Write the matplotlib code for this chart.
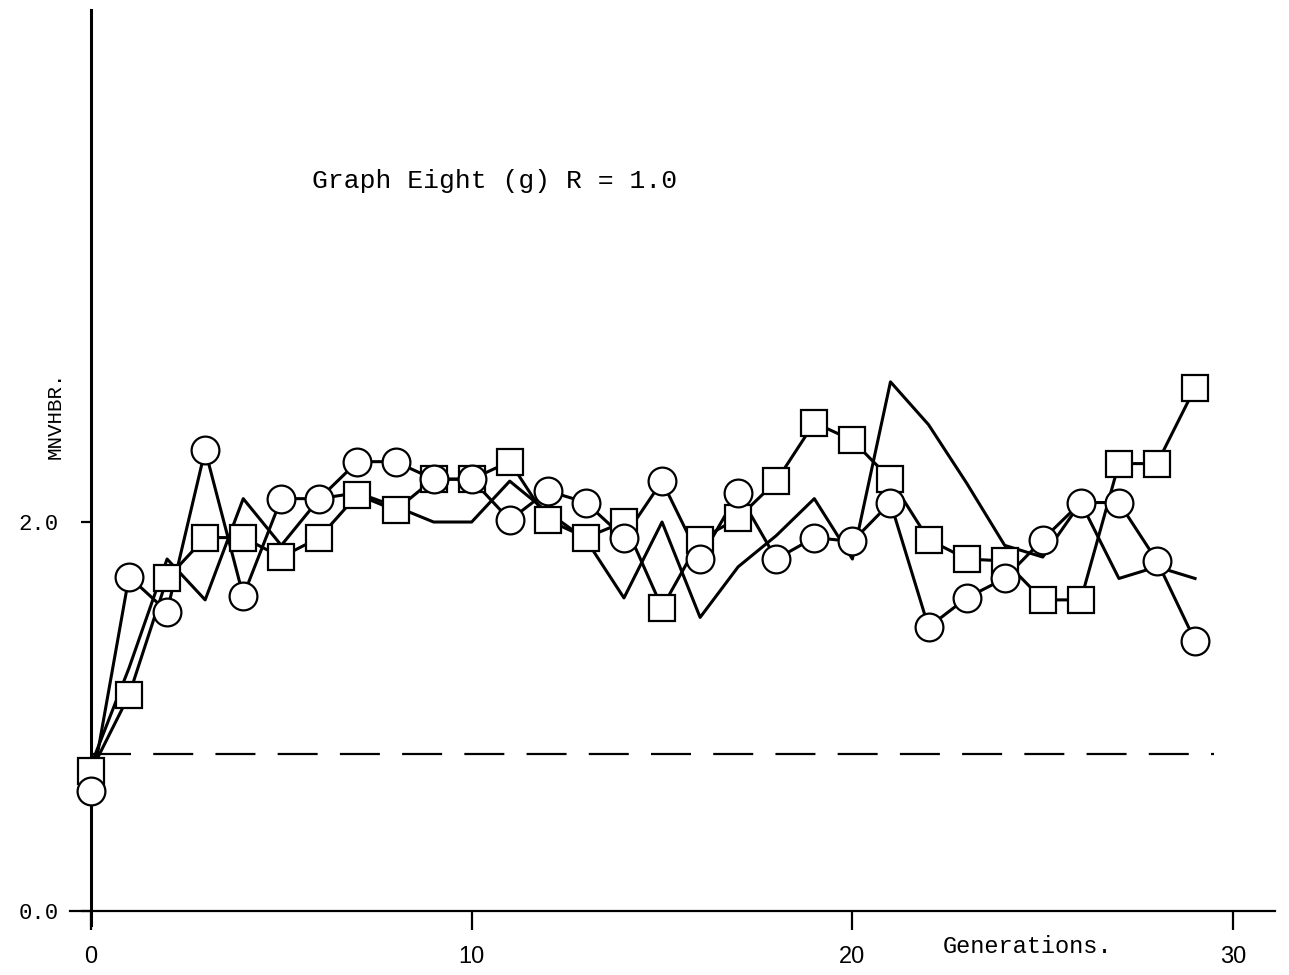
import matplotlib
matplotlib.use("Agg")
import matplotlib.pyplot as plt

# values
generations = list(range(30))
circles = [0.62, 1.72, 1.54, 2.37, 1.62, 2.12, 2.12, 2.31, 2.31, 2.22,
           2.22, 2.01, 2.16, 2.10, 1.92, 2.21, 1.81, 2.15, 1.81, 1.92,
           1.90, 2.10, 1.46, 1.61, 1.71, 1.91, 2.10, 2.10, 1.80, 1.39]
squares = [0.72, 1.11, 1.71, 1.92, 1.92, 1.82, 1.92, 2.14, 2.06, 2.22,
           2.22, 2.31, 2.01, 1.92, 2.00, 1.56, 1.91, 2.02, 2.21, 2.51,
           2.42, 2.22, 1.91, 1.81, 1.80, 1.60, 1.60, 2.30, 2.30, 2.69]
plain = [0.75, 1.25, 1.81, 1.60, 2.12, 1.88, 2.12, 2.15, 2.08, 2.00,
         2.00, 2.21, 2.05, 1.91, 1.61, 2.00, 1.51, 1.77, 1.93, 2.12,
         1.81, 2.72, 2.50, 2.20, 1.88, 1.82, 2.10, 1.71, 1.77, 1.71]
baseline = 0.81
baseline_span = [0, 29.5]
xticks = [0, 10, 20, 30]
yticks = [0.0, 2.0]
ytick_labels = ["0.0", "2.0"]

mono = "Liberation Mono"

fig = plt.figure(figsize=(12.89, 9.75), dpi=100)
fig.patch.set_facecolor("white")
ax = fig.add_axes([70 / 1289, 50 / 975, 1205 / 1289, 915 / 975])
ax.set_xlim(-0.55, 31.1)
ax.set_ylim(-0.07, 4.63)

# axes drawn through the origin, typewriter style
for side in ["top", "right"]:
    ax.spines[side].set_visible(False)
ax.spines["left"].set_position(("data", 0))
ax.spines["bottom"].set_position(("data", 0))
ax.spines["left"].set_linewidth(2.2)
ax.spines["bottom"].set_linewidth(1.6)

ax.set_xticks(xticks)
ax.set_xticklabels([str(t) for t in xticks], fontsize=17, family="Liberation Sans")
ax.set_yticks(yticks)
ax.set_yticklabels(ytick_labels, fontsize=16, family=mono)
ax.tick_params(axis="x", direction="out", length=14, width=1.6, pad=11)
ax.tick_params(axis="y", direction="out", length=7, width=1.6, pad=16)

# dashed reference level
ax.plot(baseline_span, [baseline, baseline], color="black", lw=1.6,
        dashes=(18, 10), zorder=1)

# lines first, then hollow markers on top
ax.plot(generations, plain, color="black", lw=2.2, zorder=2)
ax.plot(generations, squares, color="black", lw=2.2, zorder=2)
ax.plot(generations, circles, color="black", lw=2.2, zorder=2)
ax.plot(generations, squares, ls="none", marker="s", markersize=19,
        markerfacecolor="white", markeredgecolor="black", markeredgewidth=1.6, zorder=3)
ax.plot(generations, circles, ls="none", marker="o", markersize=20,
        markerfacecolor="white", markeredgecolor="black", markeredgewidth=1.6, zorder=4)

ax.text(5.8, 3.75, "Graph Eight (g) R = 1.0", fontsize=19, family=mono,
        va="center", ha="left")
ax.text(24.6, -0.18, "Generations.", fontsize=17, family=mono,
        va="center", ha="center")
fig.text(55 / 1289, 1 - 415 / 975, "MNVHBR.", rotation=90, fontsize=15,
         family=mono, va="center", ha="center")

fig.savefig("out.png", dpi=100, facecolor="white")
